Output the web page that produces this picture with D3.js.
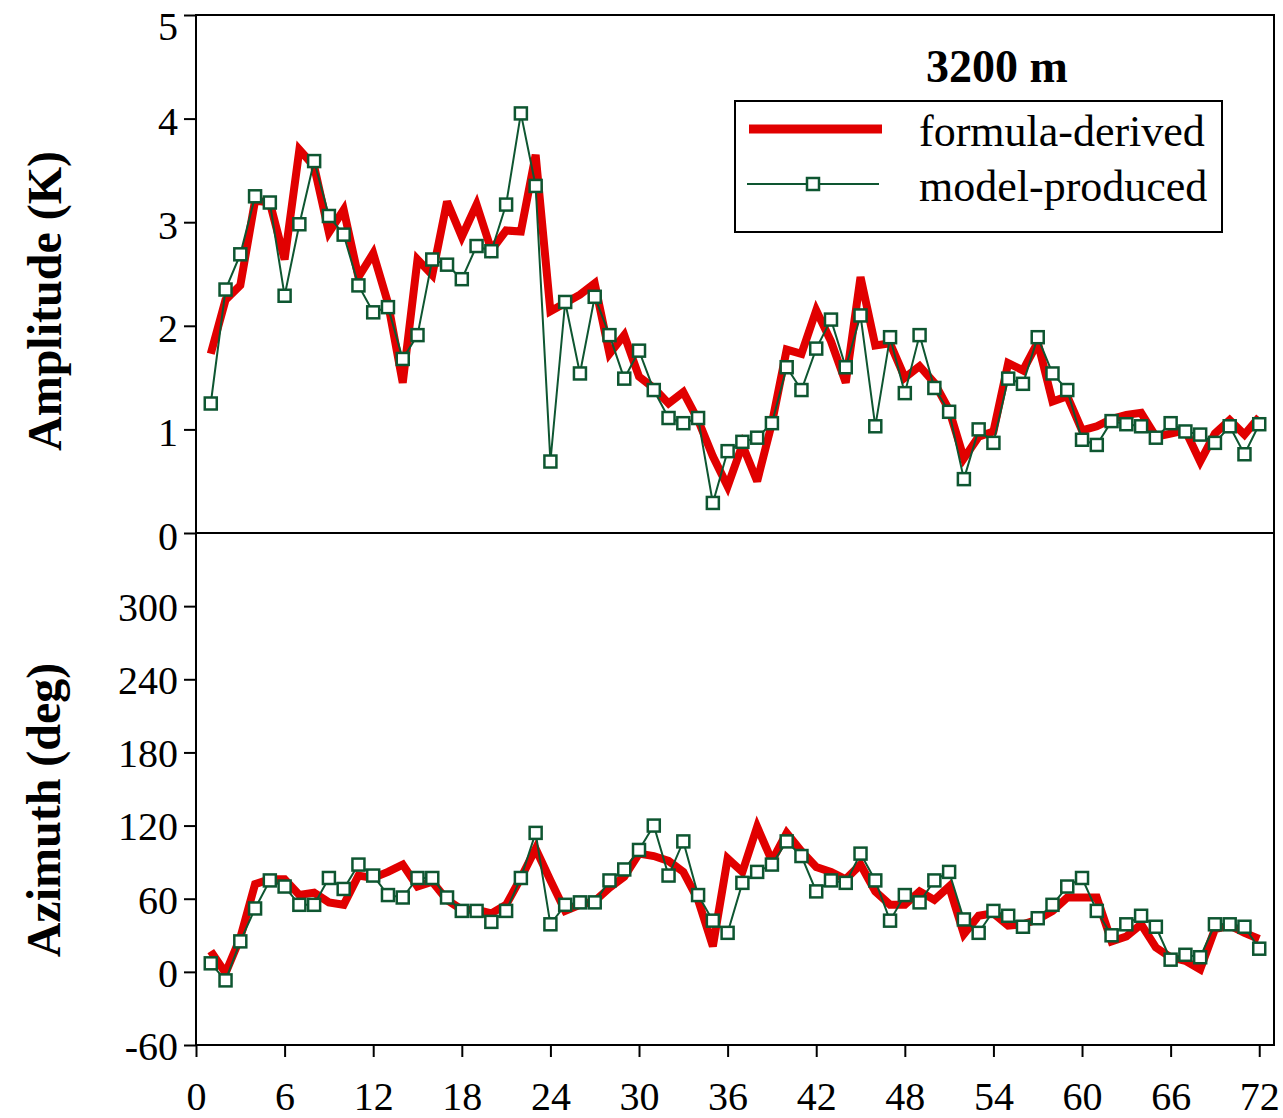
<!DOCTYPE html>
<html>
<head>
<meta charset="utf-8">
<script src="https://cdn.jsdelivr.net/npm/d3@7"></script>
<style>
  html, body { margin: 0; padding: 0; background: #fff; }
  svg, svg text { font-family: "Liberation Serif", "Times New Roman", serif; }
  svg { display: block; }
</style>
</head>
<body>
<svg id="chart" width="1283" height="1118"></svg>
<script>
// Sample index along the horizontal axis (1..72)
const steps = d3.range(1, 73);

// Amplitude (K)
const ampFormula = [1.73, 2.25, 2.39, 3.21, 3.19, 2.64, 3.70, 3.54, 2.90, 3.12,
  2.47, 2.70, 2.22, 1.45, 2.64, 2.49, 3.20, 2.86, 3.17, 2.73,
  2.92, 2.91, 3.65, 2.14, 2.22, 2.30, 2.41, 1.73, 1.91, 1.51,
  1.40, 1.25, 1.36, 1.09, 0.74, 0.45, 0.85, 0.50, 1.06, 1.77,
  1.73, 2.15, 1.85, 1.45, 2.47, 1.81, 1.83, 1.50, 1.61, 1.45,
  1.19, 0.72, 0.93, 0.98, 1.64, 1.57, 1.84, 1.27, 1.32, 0.99,
  1.03, 1.10, 1.14, 1.16, 0.93, 0.96, 0.99, 0.69, 0.96, 1.09,
  0.95, 1.12];
const ampModel = [1.25, 2.35, 2.69, 3.25, 3.19, 2.29, 2.98, 3.59, 3.06, 2.88,
  2.39, 2.13, 2.18, 1.68, 1.91, 2.64, 2.59, 2.45, 2.77, 2.72,
  3.17, 4.05, 3.35, 0.69, 2.23, 1.54, 2.28, 1.91, 1.49, 1.76,
  1.38, 1.11, 1.06, 1.11, 0.29, 0.79, 0.88, 0.92, 1.06, 1.60,
  1.38, 1.78, 2.06, 1.60, 2.10, 1.03, 1.89, 1.35, 1.91, 1.40,
  1.17, 0.52, 1.00, 0.87, 1.49, 1.44, 1.89, 1.54, 1.38, 0.90,
  0.85, 1.08, 1.05, 1.03, 0.92, 1.06, 0.98, 0.95, 0.87, 1.03,
  0.76, 1.05];

// Azimuth (deg)
const aziFormula = [17, -1, 28, 72, 76, 76, 63, 65, 57, 55,
  79, 77, 82, 88, 70, 74, 59, 51, 51, 48,
  55, 77, 101, 75, 50, 55, 58, 69, 78, 97,
  95, 91, 82, 59, 21, 93, 82, 119, 91, 114,
  99, 86, 82, 76, 88, 66, 55, 55, 66, 59,
  70, 31, 46, 48, 38, 39, 43, 50, 61, 61,
  61, 25, 29, 39, 20, 12, 9, 2, 35, 38,
  32, 27];
const aziModel = [7, -7, 25, 52, 75, 70, 55, 55, 77, 68,
  88, 79, 63, 61, 77, 77, 61, 50, 50, 41,
  50, 77, 114, 39, 55, 57, 57, 75, 84, 100,
  120, 79, 107, 63, 42, 32, 73, 82, 88, 107,
  95, 66, 75, 73, 97, 75, 42, 63, 57, 75,
  82, 43, 32, 50, 46, 37, 44, 55, 70, 77,
  50, 30, 39, 46, 37, 10, 14, 12, 39, 39,
  37, 19];

// Tick values
const xTicks = d3.range(0, 73, 6);
const ampTicks = [0, 1, 2, 3, 4, 5];
const aziTicks = [-60, 0, 60, 120, 180, 240, 300];

const titleText = "3200 m";
const seriesNames = ["formula-derived", "model-produced"];

const RED = "#e10000";
const GREEN = "#0e5631";
const FONT = '"Liberation Serif", "Times New Roman", serif';

const svg = d3.select("#chart");

const plotL = 196, plotR = 1274, plotT = 15, plotMid = 533, plotB = 1045;

const x = d3.scaleLinear().domain([0, 73]).range([plotL, plotR]);
const yAmp = d3.scaleLinear().domain([0, 5]).range([plotMid, plotT]);
const yAzi = d3.scaleLinear().domain([-60, 360]).range([plotB, plotMid]);

const plainNum = d => String(d);

// axes
function styleAxis(g) {
  g.attr("font-family", FONT);
  g.select(".domain").remove();
  g.selectAll(".tick line").attr("stroke", "#000").attr("stroke-width", 2);
  g.selectAll(".tick text").attr("fill", "#000").style("font-size", "40px");
}

const ampAxisG = svg.append("g")
  .attr("transform", `translate(${plotL},0)`)
  .call(d3.axisLeft(yAmp).tickValues(ampTicks).tickSize(12).tickPadding(6).tickFormat(plainNum))
  .call(styleAxis);
// the top label sits just below the frame edge so it stays inside the page
ampAxisG.selectAll(".tick text").attr("dy", d => d === 5 ? "0.62em" : "0.4em");

const aziAxisG = svg.append("g")
  .attr("transform", `translate(${plotL},0)`)
  .call(d3.axisLeft(yAzi).tickValues(aziTicks).tickSize(12).tickPadding(6).tickFormat(plainNum))
  .call(styleAxis);
aziAxisG.selectAll(".tick text").attr("dy", "0.36em");

const xAxisG = svg.append("g")
  .attr("transform", `translate(0,${plotB})`)
  .call(d3.axisBottom(x).tickValues(xTicks).tickSize(12).tickFormat(plainNum))
  .call(styleAxis);
xAxisG.selectAll(".tick text").attr("y", 65).attr("dy", null);

// frame and panel divider
svg.append("rect")
  .attr("x", plotL).attr("y", plotT)
  .attr("width", plotR - plotL).attr("height", plotB - plotT)
  .attr("fill", "none").attr("stroke", "#000").attr("stroke-width", 2);
svg.append("line")
  .attr("x1", plotL).attr("x2", plotR)
  .attr("y1", plotMid).attr("y2", plotMid)
  .attr("stroke", "#000").attr("stroke-width", 2);

// series drawing
function drawPanel(yScale, formula, model) {
  const g = svg.append("g");
  const line = d3.line().x((d, i) => x(steps[i])).y(d => yScale(d));
  g.append("path")
    .datum(formula)
    .attr("d", line)
    .attr("fill", "none")
    .attr("stroke", RED)
    .attr("stroke-width", 8)
    .attr("stroke-linejoin", "miter")
    .attr("stroke-miterlimit", 3);
  g.append("path")
    .datum(model)
    .attr("d", line)
    .attr("fill", "none")
    .attr("stroke", GREEN)
    .attr("stroke-width", 2);
  const s = 12;
  g.selectAll("rect.mk")
    .data(model)
    .join("rect")
    .attr("class", "mk")
    .attr("x", (d, i) => x(steps[i]) - s / 2)
    .attr("y", d => yScale(d) - s / 2)
    .attr("width", s).attr("height", s)
    .attr("fill", "#fff")
    .attr("stroke", GREEN)
    .attr("stroke-width", 2.5);
}

drawPanel(yAmp, ampFormula, ampModel);
drawPanel(yAzi, aziFormula, aziModel);

// axis titles
svg.append("text")
  .attr("transform", `translate(61,301) rotate(-90)`)
  .attr("text-anchor", "middle")
  .style("font-size", "48px").style("font-weight", "bold")
  .text("Amplitude (K)");

svg.append("text")
  .attr("transform", `translate(60,810) rotate(-90)`)
  .attr("text-anchor", "middle")
  .style("font-size", "48px").style("font-weight", "bold")
  .text("Azimuth (deg)");

// title
svg.append("text")
  .attr("x", 997).attr("y", 82)
  .attr("text-anchor", "middle")
  .style("font-size", "46px").style("font-weight", "bold")
  .text(titleText);

// legend
const lg = svg.append("g");
lg.append("rect")
  .attr("x", 735).attr("y", 101).attr("width", 487).attr("height", 131)
  .attr("fill", "#fff").attr("stroke", "#000").attr("stroke-width", 2);
lg.append("line")
  .attr("x1", 749).attr("x2", 882).attr("y1", 129).attr("y2", 129)
  .attr("stroke", RED).attr("stroke-width", 9);
lg.append("line")
  .attr("x1", 747).attr("x2", 879).attr("y1", 184).attr("y2", 184)
  .attr("stroke", GREEN).attr("stroke-width", 2);
lg.append("rect")
  .attr("x", 813 - 6).attr("y", 184 - 6).attr("width", 12).attr("height", 12)
  .attr("fill", "#fff").attr("stroke", GREEN).attr("stroke-width", 2.5);
lg.selectAll("text.lt")
  .data(seriesNames)
  .join("text")
  .attr("class", "lt")
  .attr("x", 919)
  .attr("y", (d, i) => 146 + i * 55)
  .style("font-size", "44px")
  .text(d => d);
</script>
</body>
</html>
